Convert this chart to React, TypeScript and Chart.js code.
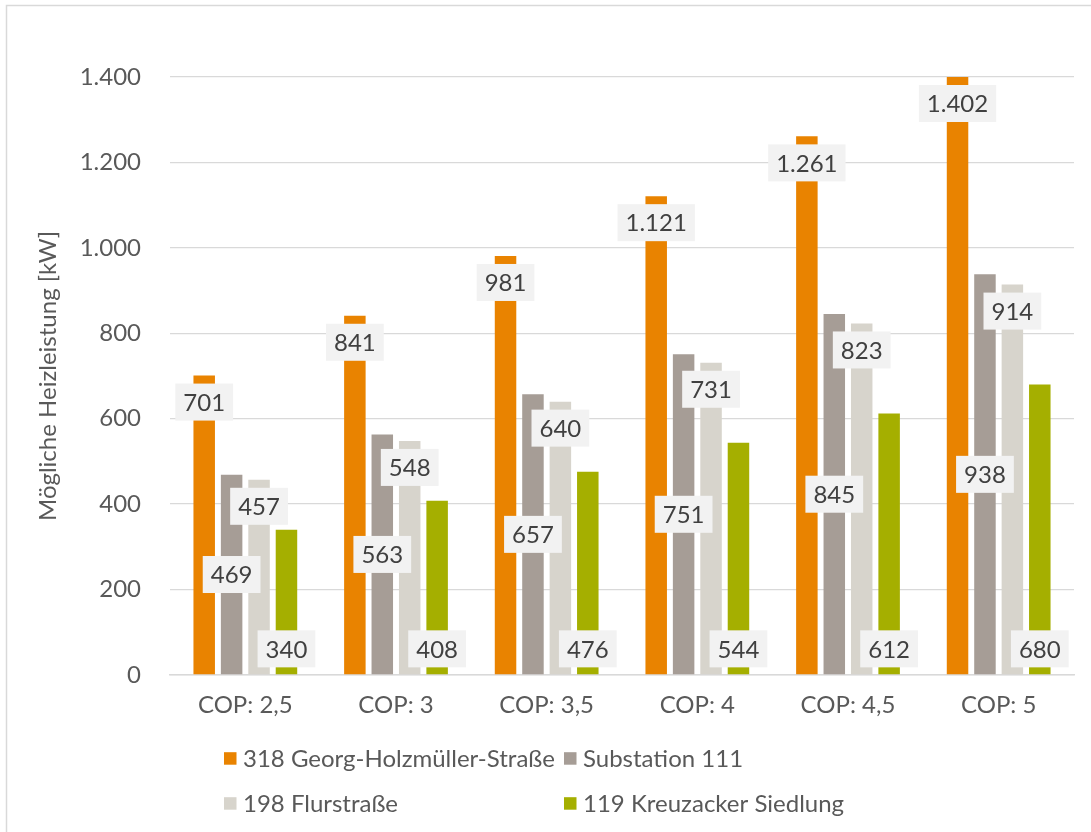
import React, { useEffect, useRef } from 'react';
import { Chart, registerables } from 'chart.js';

Chart.register(...registerables);

const categories = ['COP: 2,5', 'COP: 3', 'COP: 3,5', 'COP: 4', 'COP: 4,5', 'COP: 5'];
const seriesNames = ['318 Georg-Holzmüller-Straße', 'Substation 111', '198 Flurstraße', '119 Kreuzacker Siedlung'];
const georgValues = [701, 841, 981, 1121, 1261, 1402];
const substationValues = [469, 563, 657, 751, 845, 938];
const flurValues = [457, 548, 640, 731, 823, 914];
const kreuzackerValues = [340, 408, 476, 544, 612, 680];
const seriesColors = ['#E98300', '#A69D96', '#D7D4CC', '#A5AF00'];
const labelPositions = ['end', 'center', 'end', 'start'];
const axisTitle = 'Mögliche Heizleistung [kW]';

const FONT = 'Lato';
const FS = 24;

function fmt(v: number): string {
  const s = String(Math.round(v));
  return s.replace(/\B(?=(\d{3})+(?!\d))/g, '.');
}

const framePlugin = {
  id: 'frame',
  beforeDraw(chart: any) {
    const ctx = chart.ctx;
    ctx.save();
    ctx.fillStyle = '#FFFFFF';
    ctx.fillRect(0, 0, chart.width, chart.height);
    ctx.strokeStyle = '#D9D9D9';
    ctx.lineWidth = 1.5;
    ctx.beginPath();
    ctx.moveTo(6.5, chart.height + 2);
    ctx.lineTo(6.5, 5.5);
    ctx.lineTo(chart.width + 2, 5.5);
    ctx.stroke();
    ctx.restore();
  },
};

const labelPlugin = {
  id: 'barLabels',
  afterDatasetsDraw(chart: any) {
    const ctx = chart.ctx;
    const area = chart.chartArea;
    ctx.save();
    ctx.font = `${FS}px ${FONT}`;
    ctx.textAlign = 'center';
    ctx.textBaseline = 'middle';
    chart.data.datasets.forEach((ds: any, di: number) => {
      const meta = chart.getDatasetMeta(di);
      const pos = labelPositions[di];
      meta.data.forEach((bar: any, i: number) => {
        const text = fmt(ds.data[i]);
        const tw = ctx.measureText(text).width;
        const w = tw + 16;
        const h = 37;
        const top = Math.max(bar.y, area.top);
        const base = bar.base;
        let cy: number;
        if (pos === 'end') cy = top + 8 + h / 2;
        else if (pos === 'center') cy = (top + base) / 2;
        else cy = base - 7 - h / 2;
        ctx.fillStyle = '#F2F2F2';
        ctx.fillRect(bar.x - w / 2, cy - h / 2, w, h);
        ctx.fillStyle = '#404040';
        ctx.fillText(text, bar.x, cy + 1);
      });
    });
    ctx.restore();
  },
};

const legendPlugin = {
  id: 'gridLegend',
  afterDraw(chart: any) {
    const ctx = chart.ctx;
    ctx.save();
    ctx.font = `${FS}px ${FONT}`;
    ctx.textAlign = 'left';
    ctx.textBaseline = 'alphabetic';
    const colX = [224, 564];
    const rowY = [766.7, 811.7];
    seriesNames.forEach((name, i) => {
      const x = colX[i % 2];
      const y = rowY[Math.floor(i / 2)];
      ctx.fillStyle = seriesColors[i];
      ctx.fillRect(x, y - 14.5, 12.5, 12.5);
      ctx.fillStyle = '#595959';
      ctx.fillText(name, x + 19, y);
    });
    ctx.restore();
  },
};

export default function App() {
  const ref = useRef<HTMLCanvasElement | null>(null);
  useEffect(() => {
    if (!ref.current) return;
    const seriesValues = [georgValues, substationValues, flurValues, kreuzackerValues];
    const chart = new Chart(ref.current, {
      type: 'bar',
      data: {
        labels: categories,
        datasets: seriesNames.map((name, i) => ({
          label: name,
          data: seriesValues[i],
          backgroundColor: seriesColors[i],
          borderWidth: 0,
          categoryPercentage: 0.728,
          barPercentage: 0.784,
        })),
      },
      options: {
        responsive: false,
        animation: false,
        layout: { padding: { top: 77, left: 0, right: 17, bottom: 0 } },
        plugins: {
          legend: { display: false },
          tooltip: { enabled: false },
        },
        scales: {
          x: {
            grid: { display: false, drawTicks: false },
            border: { display: true, color: '#D9D9D9', width: 1.5 },
            ticks: { color: '#595959', font: { family: FONT, size: FS }, padding: 16 },
            afterFit(scale: any) {
              scale.height = 157;
            },
          },
          y: {
            min: 0,
            max: 1400,
            grid: { color: '#D9D9D9', lineWidth: 1.3, drawTicks: false },
            border: { display: false },
            ticks: {
              stepSize: 200,
              color: '#595959',
              font: { family: FONT, size: FS },
              padding: 29,
              callback: (v: any) => fmt(Number(v)),
            },
            title: {
              display: true,
              text: axisTitle,
              color: '#595959',
              font: { family: FONT, size: FS },
              padding: { top: 34, bottom: 0 },
            },
            afterFit(scale: any) {
              scale.width = 170;
            },
          },
        },
      },
      plugins: [framePlugin, labelPlugin, legendPlugin],
    });
    return () => chart.destroy();
  }, []);
  return (
    <div style={{ position: 'absolute', left: 0, top: 0, width: 1091, height: 832 }}>
      <canvas ref={ref} width={1091} height={832} />
    </div>
  );
}
